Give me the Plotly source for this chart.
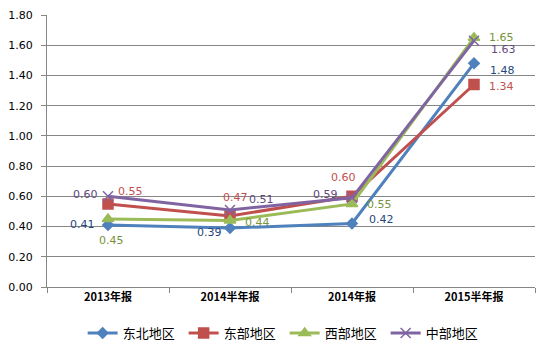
import plotly.graph_objects as go

categories = ["2013年报", "2014半年报", "2014年报", "2015半年报"]
series_names = ["东北地区", "东部地区", "西部地区", "中部地区"]
dongbei = [0.41, 0.39, 0.42, 1.48]
dongbu = [0.55, 0.47, 0.60, 1.34]
xibu = [0.45, 0.44, 0.55, 1.65]
zhongbu = [0.60, 0.51, 0.59, 1.63]
y_ticks = [0.0, 0.2, 0.4, 0.6, 0.8, 1.0, 1.2, 1.4, 1.6, 1.8]

line_colors = ["#4F81BD", "#C0504D", "#9BBB59", "#8064A2"]
label_colors = ["#1F497D", "#C0504D", "#77933C", "#5F497A"]
symbols = ["diamond", "square", "triangle-up", "x-thin"]
marker_sizes = [8, 10, 10, 10]
# label placement: (xanchor, xshift, yshift) per point
label_pos = [
    [("right", -11, 1), ("right", -6, -4), ("left", 15, 4), ("left", 14, -7)],
    [("left", 8, 12), ("center", 5, 18), ("center", -9, 19), ("left", 13, -2)],
    [("center", 3, -21), ("left", 13, -2), ("left", 13, -1), ("left", 13, 0)],
    [("right", -8, 2), ("left", 17, 10), ("right", -12, 3), ("left", 15, -9)],
]
values = [dongbei, dongbu, xibu, zhongbu]

fig = go.Figure()
for i, name in enumerate(series_names):
    fig.add_trace(go.Scatter(
        x=categories, y=values[i], name=name,
        mode="lines+markers",
        line=dict(color=line_colors[i], width=3),
        marker=dict(symbol=symbols[i], size=marker_sizes[i], color=line_colors[i],
                    line=dict(color=line_colors[i], width=1.5)),
    ))
    for j, v in enumerate(values[i]):
        xa, dx, dy = label_pos[i][j]
        fig.add_annotation(
            x=categories[j], y=v, text=f"{v:.2f}", showarrow=False,
            xanchor=xa, yanchor="middle", xshift=dx, yshift=dy,
            font=dict(family="DejaVu Sans", size=11, color=label_colors[i]),
        )

fig.update_layout(
    width=551, height=354,
    margin=dict(l=47, r=16, t=15, b=67, autoexpand=False),
    paper_bgcolor="white", plot_bgcolor="white",
    showlegend=True,
    legend=dict(orientation="h", x=0.487, xanchor="center", y=-0.169, yanchor="middle",
                font=dict(family="Noto Sans CJK SC", size=13, color="#000000"),
                itemwidth=30, entrywidth=56, entrywidthmode="pixels",
                traceorder="normal"),
    xaxis=dict(
        type="category", showgrid=False, showline=True, linecolor="#868686", linewidth=1,
        ticks="outside", tickson="boundaries", ticklen=5, tickcolor="#868686",
        tickfont=dict(family="Noto Sans CJK SC", size=11, color="#000000", weight="bold"),
        range=[-0.5, 3.5],
    ),
    yaxis=dict(
        range=[0, 1.8], tickvals=y_ticks, tickformat=".2f",
        showgrid=True, gridcolor="#868686", gridwidth=1,
        showline=True, linecolor="#868686", linewidth=1,
        ticks="outside", ticklen=5, tickcolor="#868686", ticklabelstandoff=6,
        tickfont=dict(family="DejaVu Sans", size=11, color="#000000"),
        zeroline=False,
    ),
)

fig.write_html("out.html")
